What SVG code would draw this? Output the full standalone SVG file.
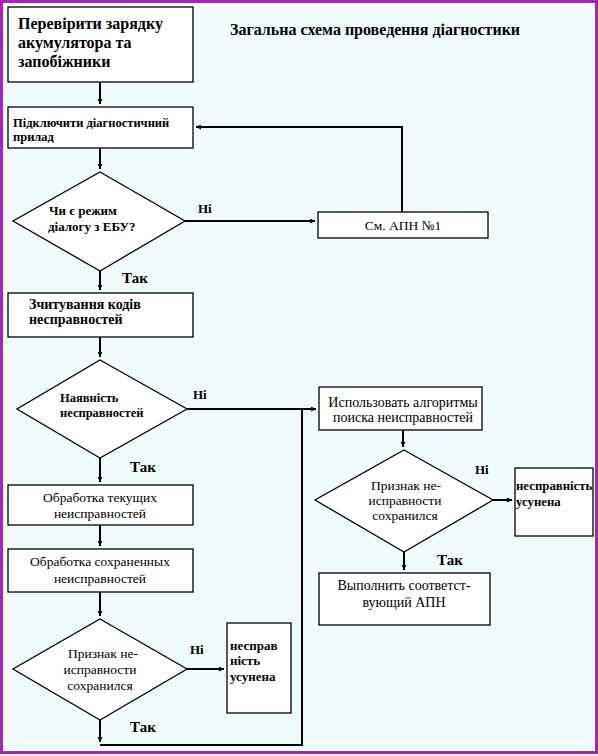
<svg xmlns="http://www.w3.org/2000/svg" width="598" height="756" viewBox="0 0 598 756">
<style>
text{font-family:"Liberation Serif","Times New Roman",serif;fill:#000}
.box{fill:#ffffff;stroke:#000;stroke-width:1.3}
.ln{fill:none;stroke:#000;stroke-width:2}
.b{font-weight:bold}
.c{text-anchor:middle}
.n{font-size:13.5px}
.s{font-size:13px;font-weight:bold}
.lab{font-size:15px;font-weight:bold}
.ni{font-size:13px;font-weight:bold}
</style>
<defs>
<marker id="ah" viewBox="0 0 10 10" refX="10" refY="5" markerWidth="5" markerHeight="5" orient="auto" markerUnits="userSpaceOnUse">
<path d="M0,0 L10,5 L0,10 z" fill="#000"/>
</marker>
</defs>
<rect x="0" y="0" width="598" height="756" fill="#ffffff"/>
<rect x="1.5" y="1.5" width="595" height="751" fill="#f0fbfb" stroke="#a626b4" stroke-width="3"/>
<text x="230" y="35" style="font-size:16px;font-weight:bold">Загальна схема проведення діагностики</text>

<g id="connectors">
<path class="ln" d="M100,82 V104" marker-end="url(#ah)"/>
<path class="ln" d="M100,148 V169" marker-end="url(#ah)"/>
<path class="ln" d="M185,221 H315" marker-end="url(#ah)"/>
<path class="ln" d="M402,212 V127 H196" marker-end="url(#ah)"/>
<path class="ln" d="M100,271 V290" marker-end="url(#ah)"/>
<path class="ln" d="M100,337 V357" marker-end="url(#ah)"/>
<path class="ln" d="M187,409 H316" marker-end="url(#ah)"/>
<path class="ln" d="M100,458 V482" marker-end="url(#ah)"/>
<path class="ln" d="M100,525 V546" marker-end="url(#ah)"/>
<path class="ln" d="M100,592 V616" marker-end="url(#ah)"/>
<path class="ln" d="M187,669 H224" marker-end="url(#ah)"/>
<path class="ln" d="M100,720 V742" marker-end="url(#ah)"/>
<path class="ln" d="M100,745 H302 V409"/>
<path class="ln" d="M403,430 V447" marker-end="url(#ah)"/>
<path class="ln" d="M493,500 H512" marker-end="url(#ah)"/>
<path class="ln" d="M404,552 V570" marker-end="url(#ah)"/>
<text class="ni" x="198" y="213">Ні</text>
<text class="lab" x="122" y="283">Так</text>
<text class="ni" x="193" y="399">Ні</text>
<text class="lab" x="130" y="472">Так</text>
<text class="ni" x="190" y="654">Ні</text>
<text class="lab" x="130" y="732">Так</text>
<text class="ni" x="475" y="474">Ні</text>
<text class="lab" x="437" y="565">Так</text>
</g>

<g id="n1">
<rect class="box" x="8" y="7" width="185" height="75"/>
<text class="b" x="18" y="29" style="font-size:16px">Перевірити зарядку</text>
<text class="b" x="18" y="48" style="font-size:16px">акумулятора та</text>
<text class="b" x="18" y="67" style="font-size:16px">запобіжники</text>
</g>

<g id="n2">
<rect class="box" x="8" y="107" width="185" height="41"/>
<text class="b" x="13" y="127" style="font-size:12.5px">Підключити діагностичний</text>
<text class="b" x="13" y="141" style="font-size:12.5px">прилад</text>
</g>

<g id="n3">
<polygon class="box" points="100,172 185,221 100,271 13,221"/>
<text class="s" x="49" y="215">Чи є режим</text>
<text class="s" x="48" y="231">діалогу з ЕБУ?</text>
</g>

<g id="n4">
<rect class="box" x="318" y="212" width="170" height="26"/>
<text class="n c" x="403" y="230">См. АПН №1</text>
</g>

<g id="n5">
<rect class="box" x="8" y="293" width="185" height="44"/>
<text class="b" x="29" y="309" style="font-size:14px">Зчитування кодів</text>
<text class="b" x="29" y="324" style="font-size:14px">несправностей</text>
</g>

<g id="n6">
<polygon class="box" points="100,360 187,409 100,458 17,409"/>
<text class="b" x="60" y="402" style="font-size:12.5px">Наявність</text>
<text class="b" x="60" y="417" style="font-size:12.5px">несправностей</text>
</g>

<g id="n7">
<rect class="box" x="8" y="485" width="185" height="40"/>
<text class="n c" x="100" y="502">Обработка текущих</text>
<text class="n c" x="100" y="518">неисправностей</text>
</g>

<g id="n8">
<rect class="box" x="8" y="549" width="185" height="43"/>
<text class="n c" x="100" y="566">Обработка сохраненных</text>
<text class="n c" x="100" y="583">неисправностей</text>
</g>

<g id="n9">
<polygon class="box" points="100,619 187,669 100,720 13,669"/>
<text class="n c" x="103" y="658">Признак не-</text>
<text class="n c" x="100" y="674">исправности</text>
<text class="n c" x="100" y="690">сохранился</text>
</g>

<g id="n10">
<rect class="box" x="227" y="623" width="64" height="90"/>
<text class="s" x="230" y="650">несправ</text>
<text class="s" x="230" y="665">ність</text>
<text class="s" x="230" y="681">усунена</text>
</g>

<g id="n11">
<rect class="box" x="319" y="387" width="163" height="43"/>
<text class="c" x="403" y="407" style="font-size:14px">Использовать алгоритмы</text>
<text class="c" x="403" y="422" style="font-size:14px">поиска неисправностей</text>
</g>

<g id="n12">
<polygon class="box" points="404,450 493,500 404,552 315,500"/>
<text class="n c" x="406" y="490">Признак не-</text>
<text class="n c" x="405" y="505">исправности</text>
<text class="n c" x="405" y="520">сохранился</text>
</g>

<g id="n13">
<rect class="box" x="515" y="468" width="78" height="68"/>
<text class="b" x="516" y="490" style="font-size:12.8px">несправність</text>
<text class="b" x="516" y="506" style="font-size:12.8px">усунена</text>
</g>

<g id="n14">
<rect class="box" x="319" y="573" width="171" height="52"/>
<text class="c" x="404" y="590" style="font-size:14px">Выполнить соответст-</text>
<text class="c" x="404" y="607" style="font-size:14px">вующий АПН</text>
</g>
</svg>
